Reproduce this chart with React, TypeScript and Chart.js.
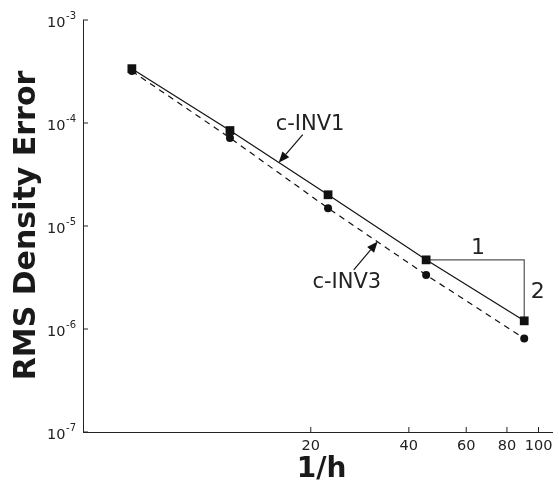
import React, { useEffect, useRef } from "react";
import { Chart, registerables } from "chart.js";

Chart.register(...registerables);

const invH = [5.65, 11.3, 22.6, 45.2, 90.4];
const errInv1 = [3.37e-4, 8.45e-5, 2.01e-5, 4.69e-6, 1.2e-6];
const errInv3 = [3.19e-4, 7.17e-5, 1.49e-5, 3.35e-6, 8.1e-7];
const yExponents = [-7, -6, -5, -4, -3];
const xTickValues = [20, 40, 60, 80, 100];
const slopeTriX = [45.2, 90.4, 90.4];
const slopeTriY = [4.69e-6, 4.69e-6, 1.2e-6];
const labelInv1 = { text: "c-INV1", x: 19.9, y: 9.66e-5, ax: 18.9, ay: 7.72e-5, tx: 15.94, ty: 4.12e-5 };
const labelInv3 = { text: "c-INV3", x: 25.8, y: 2.83e-6, ax: 27.1, ay: 3.75e-6, tx: 32.1, ty: 7.07e-6 };
const slopeLabels = [
  { text: "1", x: 65.2, y: 6.1e-6 },
  { text: "2", x: 99.5, y: 2.29e-6 },
];

const FONT = "'DejaVu Sans', sans-serif";

const overlay = {
  id: "overlay",
  afterDraw(chart: any) {
    const ctx = chart.ctx as CanvasRenderingContext2D;
    const xs = chart.scales.x;
    const ys = chart.scales.y;
    const area = chart.chartArea;
    ctx.save();
    ctx.strokeStyle = "#222";
    ctx.fillStyle = "#222";
    ctx.lineWidth = 1;
    // y ticks
    yExponents.forEach((e) => {
      const py = ys.getPixelForValue(Math.pow(10, e));
      ctx.beginPath();
      ctx.moveTo(area.left, py);
      ctx.lineTo(area.left + 5, py);
      ctx.stroke();
      ctx.font = `10px ${FONT}`;
      const exp = String(e);
      const ew = ctx.measureText(exp).width;
      const ex = area.left - 7 - ew;
      ctx.textAlign = "left";
      ctx.textBaseline = "alphabetic";
      ctx.fillText(exp, ex, py - 1);
      ctx.font = `14.5px ${FONT}`;
      ctx.textAlign = "right";
      ctx.fillText("10", ex - 0.5, py + 6.5);
    });
    // x ticks
    xTickValues.forEach((v) => {
      const px = xs.getPixelForValue(v);
      ctx.beginPath();
      ctx.moveTo(px, area.bottom);
      ctx.lineTo(px, area.bottom - 5);
      ctx.stroke();
      ctx.font = `14.5px ${FONT}`;
      ctx.textAlign = "center";
      ctx.textBaseline = "alphabetic";
      ctx.fillText(String(v), px, area.bottom + 17.5);
    });
    // titles
    ctx.fillStyle = "#1a1a1a";
    ctx.font = `bold 30px ${FONT}`;
    ctx.save();
    ctx.translate(34.5, 225.5);
    ctx.rotate(-Math.PI / 2);
    ctx.textAlign = "center";
    ctx.textBaseline = "alphabetic";
    ctx.fillText("RMS Density Error", 0, 0);
    ctx.restore();
    ctx.font = `bold 28px ${FONT}`;
    ctx.textAlign = "center";
    ctx.textBaseline = "alphabetic";
    ctx.fillText("1/h", (area.left + area.right) / 2 + 4, 477);
    // annotations
    const drawArrow = (l: any) => {
      const sx = xs.getPixelForValue(l.ax);
      const sy = ys.getPixelForValue(l.ay);
      const tx = xs.getPixelForValue(l.tx);
      const ty = ys.getPixelForValue(l.ty);
      const ang = Math.atan2(ty - sy, tx - sx);
      const hl = 11;
      const hw = 4.5;
      const bx = tx - hl * Math.cos(ang);
      const by = ty - hl * Math.sin(ang);
      ctx.strokeStyle = "#111";
      ctx.fillStyle = "#111";
      ctx.lineWidth = 1.2;
      ctx.beginPath();
      ctx.moveTo(sx, sy);
      ctx.lineTo(bx, by);
      ctx.stroke();
      ctx.beginPath();
      ctx.moveTo(tx, ty);
      ctx.lineTo(bx + hw * Math.sin(ang), by - hw * Math.cos(ang));
      ctx.lineTo(bx - hw * Math.sin(ang), by + hw * Math.cos(ang));
      ctx.closePath();
      ctx.fill();
      ctx.fillStyle = "#222";
      ctx.font = `21px ${FONT}`;
      ctx.textAlign = "center";
      ctx.textBaseline = "middle";
      ctx.fillText(l.text, xs.getPixelForValue(l.x), ys.getPixelForValue(l.y));
    };
    drawArrow(labelInv1);
    drawArrow(labelInv3);
    ctx.fillStyle = "#222";
    ctx.font = `22px ${FONT}`;
    ctx.textAlign = "center";
    ctx.textBaseline = "middle";
    slopeLabels.forEach((s) => {
      ctx.fillText(s.text, xs.getPixelForValue(s.x), ys.getPixelForValue(s.y));
    });
    ctx.restore();
  },
};

export default function App() {
  const ref = useRef<HTMLCanvasElement>(null);
  useEffect(() => {
    document.body.style.margin = "0";
    const chart = new Chart(ref.current as HTMLCanvasElement, {
      type: "line",
      data: {
        datasets: [
          {
            label: "c-INV1",
            data: invH.map((x, i) => ({ x, y: errInv1[i] })),
            borderColor: "#111",
            backgroundColor: "#111",
            borderWidth: 1.2,
            pointStyle: "rect",
            pointRadius: 6.2,
            pointBorderWidth: 0,
          },
          {
            label: "c-INV3",
            data: invH.map((x, i) => ({ x, y: errInv3[i] })),
            borderColor: "#111",
            backgroundColor: "#111",
            borderWidth: 1.2,
            borderDash: [6, 5],
            pointStyle: "circle",
            pointRadius: 4,
            pointBorderWidth: 0,
          },
          {
            label: "slope",
            data: slopeTriX.map((x, i) => ({ x, y: slopeTriY[i] })),
            borderColor: "#555",
            borderWidth: 1.2,
            pointRadius: 0,
          },
        ],
      },
      options: {
        responsive: false,
        animation: false,
        clip: false as any,
        layout: { padding: { left: 0, right: 7, top: 20, bottom: 0 } },
        plugins: { legend: { display: false }, tooltip: { enabled: false } },
        scales: {
          x: {
            type: "logarithmic",
            min: 4,
            max: 110,
            grid: { display: false },
            ticks: { display: false },
            border: { display: true, color: "#222", width: 1 },
            afterFit: (s: any) => {
              s.height = 50;
            },
          },
          y: {
            type: "logarithmic",
            min: 1e-7,
            max: 1e-3,
            grid: { display: false },
            ticks: { display: false },
            border: { display: true, color: "#222", width: 1 },
            afterFit: (s: any) => {
              s.width = 83;
            },
          },
        },
      },
      plugins: [overlay],
    });
    return () => chart.destroy();
  }, []);
  return (
    <div style={{ position: "fixed", left: 0, top: 0 }}>
      <canvas ref={ref} width={559} height={482} style={{ width: 559, height: 482 }} />
    </div>
  );
}
